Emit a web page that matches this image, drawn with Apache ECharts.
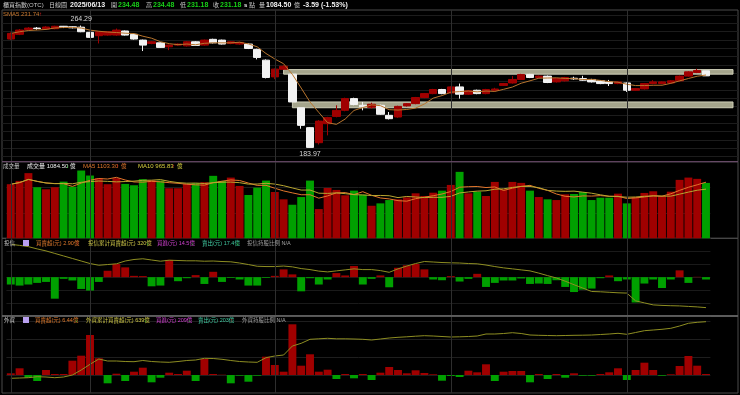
<!DOCTYPE html>
<html><head><meta charset="utf-8">
<script src="https://cdn.jsdelivr.net/npm/echarts@6/dist/echarts.min.js"></script>
<style>html,body{margin:0;padding:0;background:#000;}#c{width:740px;height:395px;}</style>
</head><body><div id="c"></div>
<script>
const dates = ['2025/02/17','2025/02/18','2025/02/19','2025/02/20','2025/02/21','2025/02/24','2025/02/25','2025/02/26','2025/02/27',
'2025/03/03','2025/03/04','2025/03/05','2025/03/06','2025/03/07','2025/03/10','2025/03/11','2025/03/12','2025/03/13','2025/03/14','2025/03/17','2025/03/18','2025/03/19','2025/03/20','2025/03/21','2025/03/24','2025/03/25','2025/03/26','2025/03/27','2025/03/28','2025/03/31',
'2025/04/01','2025/04/02','2025/04/07','2025/04/08','2025/04/09','2025/04/10','2025/04/11','2025/04/14','2025/04/15','2025/04/16','2025/04/17','2025/04/18','2025/04/21','2025/04/22','2025/04/23','2025/04/24','2025/04/25','2025/04/28','2025/04/29','2025/04/30',
'2025/05/02','2025/05/05','2025/05/06','2025/05/07','2025/05/08','2025/05/09','2025/05/12','2025/05/13','2025/05/14','2025/05/15','2025/05/16','2025/05/19','2025/05/20','2025/05/21','2025/05/22','2025/05/23','2025/05/26','2025/05/27','2025/05/28','2025/05/29',
'2025/06/02','2025/06/03','2025/06/04','2025/06/05','2025/06/06','2025/06/09','2025/06/10','2025/06/11','2025/06/12','2025/06/13'];

const opens  = [255.4,258.5,261.6,262.6,262.0,262.2,263.8,263.5,263.2,259.8,257.6,258.0,258.0,260.7,258.5,254.7,252.5,252.9,250.3,251.4,250.9,253.6,251.4,255.2,254.7,252.5,252.1,252.1,248.6,241.5,230.5,235.5,232.3,210.2,197.1,187.2,199.7,204.5,208.5,216.2,211.8,210.5,211.8,205.2,204.1,211.4,212.9,216.9,219.5,222.2,219.9,223.9,219.1,221.7,219.5,221.7,224.9,226.5,228.8,232.1,230.1,231.0,227.2,227.9,229.6,229.4,228.8,227.9,227.2,226.1,226.5,221.7,222.6,226.1,226.1,226.5,227.9,231.0,233.4,234.48];
const closes = [259.1,261.3,262.6,262.3,263.3,263.8,263.0,262.8,260.2,256.5,260.2,260.2,261.3,258.0,255.4,251.4,253.6,249.9,251.4,252.1,253.6,251.2,254.7,252.9,252.1,253.6,253.2,249.2,243.3,230.1,235.6,237.5,214.0,198.6,184.1,201.4,203.7,208.5,216.2,212.3,210.9,212.5,205.9,203.0,211.1,212.9,216.9,219.5,222.2,219.5,223.9,219.1,221.3,219.5,222.2,222.5,226.1,228.8,232.1,230.1,231.0,226.8,229.4,230.1,229.2,228.3,227.2,226.1,226.1,227.2,221.7,222.8,226.1,227.2,227.2,227.9,231.0,233.8,234.77,231.18];
const lows   = [254.8,258.0,261.0,261.5,261.6,261.8,262.6,262.4,259.9,256.2,252.5,257.6,257.5,257.7,255.0,247.5,252.0,249.5,248.1,251.0,250.5,250.8,251.0,252.5,251.8,252.0,251.7,248.8,242.0,229.5,229.0,235.3,214.0,196.4,183.97,186.0,192.0,203.9,207.9,211.8,208.5,209.5,205.5,202.5,203.6,211.0,212.5,216.5,219.1,219.1,219.5,216.2,218.7,219.1,219.1,221.0,224.5,226.1,228.4,229.7,229.7,226.4,226.8,227.5,228.5,227.9,226.8,225.7,224.5,225.7,220.6,221.3,222.2,225.7,225.7,226.1,227.5,230.6,233.0,231.18];
const highs  = [259.8,262.0,263.2,263.3,263.8,264.1,264.0,263.9,264.29,260.1,260.6,260.6,262.3,261.0,258.8,255.0,254.0,253.3,251.8,252.5,254.0,254.0,255.0,255.6,255.0,254.0,253.6,252.5,249.0,242.0,236.0,238.2,232.3,210.2,197.5,202.0,204.2,211.8,216.8,216.8,214.0,213.5,212.3,207.4,211.5,213.3,217.3,219.9,222.6,222.6,224.3,226.1,221.9,222.1,222.6,223.3,226.5,231.0,232.5,232.5,231.4,231.4,229.8,230.5,230.6,231.2,229.2,228.3,228.5,227.6,226.9,223.2,226.5,228.3,227.6,228.3,231.4,234.2,235.8,234.48];

const volumes = [1059,1124,1276,1000,960,1000,1110,1012,1327,1229,1177,1059,1177,1065,1039,1158,1138,1130,980,980,1065,1079,1098,1223,1124,1189,1025,848,992,1130,907,763,657,808,1130,572,986,947,842,933,854,637,684,749,763,802,881,828,893,933,1045,1301,881,913,828,1104,960,1104,1085,933,808,763,749,861,868,907,749,795,795,874,684,808,888,921,828,913,1144,1189,1164,1084.5];

const trustNet = [-9.1,-10.4,-9.1,-7.1,-5.9,-26.6,-2.1,-4.1,-14.6,-16.6,-5.9,7.9,16.3,12.1,1.6,1.3,-11.3,-10.4,21.3,-5.0,-1.3,2.5,-8.4,6.6,-5.9,-0.9,-2.9,-10.4,-10.4,-0.9,1.6,9.6,3.4,-17.5,-1.3,-9.1,-2.9,5.0,2.1,13.8,-9.1,-2.1,2.1,-12.5,11.6,14.6,16.3,9.6,-2.9,-3.8,1.3,-5.4,-2.1,4.1,-12.1,-7.1,-4.1,-4.1,-1.6,-8.4,-7.9,-8.4,-3.8,-12.1,-18.4,-15.4,-14.1,-1.3,2.1,-5.0,-2.9,-31.3,-7.9,-2.9,-13.4,-2.9,8.4,-7.1,0.4,-2.9];
const trustCum = [18.6,13.2,6.2,-5.7,-16.5,-30,-43.5,-57,-70.5,-84,-93.2,-89.4,-85.6,-70.5,-62.4,-58.6,-65.1,-71.6,-66.2,-67.8,-69.4,-69.4,-71.6,-70.5,-73.2,-74.8,-81.3,-89.4,-98.6,-100.2,-100.2,-97.5,-101.8,-111,-116.4,-124.5,-128.8,-123.4,-118,-112.6,-116.4,-116.4,-121.8,-131,-112.6,-97.5,-84,-73.2,-75.9,-78.6,-80.2,-81.3,-84,-85.6,-92.1,-100.2,-107.2,-112.6,-118,-123.4,-135.3,-148.8,-161.2,-178.5,-197.4,-215.2,-233.6,-235.2,-237.9,-240.6,-242.2,-283.8,-294.6,-305.4,-308.1,-309.7,-310.8,-313.5,-316.2,-320];

const foreignNet = [3.4,13.4,-5.4,-12,10,2,2,28.6,38.6,80,33.4,-16.6,2.6,-12,6.6,14.6,-14.6,-5.4,4.6,2,8.6,-12,32,2,0.6,-16.6,-1.4,-13.4,-1.4,36.6,20,6.6,101.4,18.6,41.4,6.6,10.6,-8,2,-6.6,2,-10,4.6,16,10,3.4,9.4,4,1.4,-11.4,-2,-4,8.6,5.4,21.4,-12,6.6,8,8,-14.6,2,-8,2,-5.4,3.4,-1.4,-1.4,2,5.4,13.4,-10,10,24.6,10,-1.4,1.4,18,38,18.6,2];
const foreignCum = [-16.5,-15,-13.5,-8.5,-10,-13.5,-10,0,25,53.5,80,70,70,67.5,66.5,72.5,67.5,65,63.5,67.5,72.5,75,83.5,82.5,78.5,72.5,67.5,65,63.5,86.5,95,100,145,158.5,178.5,181,183.5,181,181,180,178.5,175,180,185,188.5,191,194,196.5,195,192.5,190,191,192.5,195,205,205,207.5,211.5,207.5,200,198.5,197.5,196.5,197.5,198.5,199,200,202.5,205,208.5,203.5,212.5,221.5,225,228.5,233.5,245,258.5,263.5,266.5];

const UP = '#a00000', DOWN_C = '#f2f2f2', DOWN_V = '#00a000';
const ma = (arr, n) => arr.map((_, i) => { const s = Math.max(0, i - n + 1); let t = 0; for (let k = s; k <= i; k++) t += arr[k]; return +(t / (i - s + 1)).toFixed(2); });
const sma5 = ma(closes, 5), vma5 = ma(volumes, 5), vma10 = ma(volumes, 10);
const candles = dates.map((d, i) => [opens[i], closes[i], lows[i], highs[i]]);
const volData = volumes.map((v, i) => ({ value: v, itemStyle: { color: closes[i] >= opens[i] ? UP : DOWN_V } }));
const signBars = arr => arr.map(v => ({ value: v, itemStyle: { color: v >= 0 ? UP : DOWN_V } }));
const monthStarts = dates.filter((d, i) => i === 0 || d.slice(5, 7) !== dates[i - 1].slice(5, 7));
const monthLines = { silent: true, symbol: 'none', label: { show: false }, lineStyle: { color: '#2e2e2e', width: 1, type: 'solid' }, data: monthStarts.map(d => ({ xAxis: d })) };

const L = 6.4, W = 704;
const panels = [{ top: 10, h: 151.7 }, { top: 161.7, h: 76.6 }, { top: 238.3, h: 77.7 }, { top: 316, h: 77 }];
const grids = panels.map(p => ({ left: L, width: W, top: p.top, height: p.h }));
grids.push(...panels.map(p => ({ left: 2, right: 2, top: p.top, height: p.h, show: true, borderColor: '#4a4a4a', borderWidth: 1, backgroundColor: 'transparent' })));
grids.push({ left: 2, right: 2, top: 15, height: 141.6 });

const hid = { axisLine: { show: false }, axisTick: { show: false }, axisLabel: { show: false } };
const xAxes = [0, 1, 2, 3].map(g => ({ type: 'category', data: dates, gridIndex: g, boundaryGap: true, ...hid, splitLine: { show: false } }));
for (let g = 4; g <= 8; g++) xAxes.push({ type: 'value', gridIndex: g, min: 0, max: 1, ...hid, splitLine: { show: false } });
const sl = c => ({ show: true, lineStyle: { color: c, width: 1 } });
const yAxes = [
  { gridIndex: 0, min: 174.7, max: 274.5, ...hid, splitLine: { show: false } },
  { gridIndex: 1, min: 0, max: 1500, interval: 500, ...hid, splitLine: sl('#1e1e1e') },
  { gridIndex: 2, min: -48, max: 48, interval: 16, ...hid, splitLine: sl('#1a1a1a') },
  { gridIndex: 3, min: -36, max: 118, interval: 36, ...hid, splitLine: sl('#1e1e1e') },
  { gridIndex: 2, min: -364.8, max: 51, ...hid, splitLine: { show: false } },
  { gridIndex: 3, min: -90, max: 295, ...hid, splitLine: { show: false } },
  { gridIndex: 4, min: 0, max: 1, ...hid, splitLine: { show: false } },
  { gridIndex: 5, min: 0, max: 1, ...hid, splitLine: { show: false } },
  { gridIndex: 6, min: 0, max: 1, ...hid, splitLine: { show: false } },
  { gridIndex: 7, min: 0, max: 1, ...hid, splitLine: { show: false } },
  { gridIndex: 8, min: 0, max: 17, interval: 1, ...hid, splitLine: sl('#1c1c1c') }
];

const band = { color: '#a5a58c', borderColor: '#cfcfb8', borderWidth: 1 };
const series = [
  { type: 'candlestick', xAxisIndex: 0, yAxisIndex: 0, data: candles, barWidth: '88%',
    itemStyle: { color: UP, color0: DOWN_C, borderColor: UP, borderColor0: DOWN_C, borderWidth: 1 },
    markLine: monthLines,
    markArea: { silent: true, itemStyle: band, data: [
      [{ xAxis: dates[31], yAxis: lows[31] }, { x: 733, yAxis: highs[32] }],
      [{ xAxis: dates[32], yAxis: lows[32] }, { x: 733, yAxis: highs[33] }]
    ] },
    markPoint: { symbol: 'circle', symbolSize: 1, itemStyle: { color: 'rgba(0,0,0,0)' },
      label: { show: true, color: '#d8d8d8', fontSize: 7, fontFamily: '"Liberation Sans", Arial, sans-serif', formatter: p => p.value.toFixed(2) },
      data: [
        { type: 'max', valueDim: 'highest', label: { position: 'top', distance: 2 } },
        { type: 'min', valueDim: 'lowest', label: { position: 'bottom', distance: 2 } }
      ] } },
  { type: 'line', xAxisIndex: 0, yAxisIndex: 0, data: sma5, symbol: 'none', lineStyle: { color: '#b8752e', width: 1 }, z: 3 },
  { type: 'bar', xAxisIndex: 1, yAxisIndex: 1, data: volData, barWidth: '90%', markLine: monthLines },
  { type: 'line', xAxisIndex: 1, yAxisIndex: 1, data: vma5, symbol: 'none', lineStyle: { color: '#e2762c', width: 1 } },
  { type: 'line', xAxisIndex: 1, yAxisIndex: 1, data: vma10, symbol: 'none', lineStyle: { color: '#b9a630', width: 1 } },
  { type: 'bar', xAxisIndex: 2, yAxisIndex: 2, data: signBars(trustNet), barWidth: '90%', markLine: monthLines },
  { type: 'line', xAxisIndex: 2, yAxisIndex: 4, data: trustCum, symbol: 'none', lineStyle: { color: '#8e8e22', width: 1 } },
  { type: 'bar', xAxisIndex: 3, yAxisIndex: 3, data: signBars(foreignNet), barWidth: '90%', markLine: monthLines },
  { type: 'line', xAxisIndex: 3, yAxisIndex: 5, data: foreignCum, symbol: 'none', lineStyle: { color: '#8e8e22', width: 1 } }
];

const F = '"Liberation Sans", "Noto Sans CJK TC", sans-serif';
const t = (text, x, y, fill, size, weight) => ({ type: 'text', x, y, silent: true, z: 100,
  style: { text, fill, font: (weight || 'normal') + ' ' + size + 'px ' + F, verticalAlign: 'middle' } });
const G = '#18d018', GR = '#c8c8c8', WH = '#f0f0f0', RD = '#e02020';
const C = 6, N = 7, S = 5.5;
const graphic = [
  t('櫃買指數(OTC)', 3, 5, GR, C), t('日線圖', 49, 5, GR, C), t('2025/06/13', 70, 5, WH, N, 'bold'),
  t('開', 111, 5, GR, C), t('234.48', 118, 5, G, N, 'bold'),
  t('高', 146, 5, GR, C), t('234.48', 153, 5, G, N, 'bold'),
  t('低', 180, 5, GR, C), t('231.18', 187, 5, G, N, 'bold'),
  t('收', 213, 5, GR, C), t('231.18', 220, 5, G, N, 'bold'),
  t('s', 244, 5, WH, 6, 'bold'), t('點', 249, 5, GR, C),
  t('量', 259, 5, GR, C), t('1084.50', 266, 5, WH, N, 'bold'), t('億', 294, 5, GR, C),
  t('-3.59 (-1.53%)', 303, 5, WH, N, 'bold'),
  t('SMA5 231.74', 3, 14, '#c8782e', 6), t('↑', 39, 14, RD, 6),
  t('成交量', 3, 166, GR, S), t('成交量 1084.50', 27, 166, WH, 6), t('↓', 66, 166, G, 6), t('億', 70, 166, WH, S),
  t('MA5 1103.30', 83, 166, '#e2762c', 6), t('↑', 116, 166, RD, 6), t('億', 121, 166, '#e2762c', S),
  t('MA10 965.83', 138, 166, '#d8d040', 6), t('↑', 172, 166, RD, 6), t('億', 177, 166, '#d8d040', S),
  t('投信', 4, 243, GR, S),
  t('買賣超(元) 2.90億', 36, 243, '#e07a2c', S), t('↑', 76, 243, RD, S),
  t('投信累計買賣超(元) 320億', 88, 243, '#d0c848', S), t('↓', 146, 243, G, S),
  t('買進(元) 14.5億', 157, 243, '#d040d0', S), t('↓', 191, 243, G, S),
  t('賣出(元) 17.4億', 202, 243, '#40c8a0', S), t('↓', 236, 243, G, S),
  t('投信持股比例 N/A', 247, 243, '#a0a0a0', S),
  t('外資', 4, 320, GR, S),
  t('買賣超(元) 6.44億', 35, 320, '#e07a2c', S), t('↓', 75, 320, G, S),
  t('外資累計買賣超(元) 639億', 86, 320, '#d0c848', S), t('↓', 144, 320, G, S),
  t('買進(元) 209億', 156, 320, '#d040d0', S), t('↓', 188, 320, G, S),
  t('賣出(元) 203億', 198, 320, '#40c8a0', S), t('↑', 230, 320, RD, S),
  t('外資持股比例 N/A', 242, 320, '#a0a0a0', S),
  { type: 'rect', shape: { x: 23, y: 240, width: 6, height: 6 }, style: { fill: '#b9a0f0' }, silent: true, z: 100 },
  { type: 'rect', shape: { x: 23, y: 317, width: 6, height: 6 }, style: { fill: '#b9a0f0' }, silent: true, z: 100 },
  { type: 'line', shape: { x1: 2, y1: 161.7, x2: 738, y2: 161.7 }, style: { stroke: '#6e4c6e', lineWidth: 1 }, silent: true, z: 90 },
  { type: 'line', shape: { x1: 2, y1: 316, x2: 738, y2: 316 }, style: { stroke: '#6a6a6a', lineWidth: 1.5 }, silent: true, z: 90 }
];

const chart = echarts.init(document.getElementById('c'), null, { renderer: 'canvas' });
chart.setOption({ backgroundColor: '#000', animation: false, grid: grids, xAxis: xAxes, yAxis: yAxes, series, graphic });
</script></body></html>
